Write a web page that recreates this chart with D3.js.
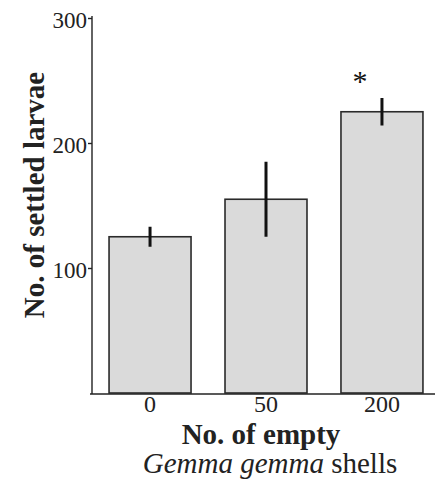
<!DOCTYPE html>
<html>
<head>
<meta charset="utf-8">
<script src="https://cdn.jsdelivr.net/npm/d3@7"></script>
<style>
  body { margin: 0; background: #fff; }
  svg { display: block; }
  svg text { font-family: "Liberation Serif", "Times New Roman", serif; }
</style>
</head>
<body>
<svg id="chart" width="439" height="486"></svg>
<script>
// shell treatments and settled larvae (mean, +/- error)
const shells = ['0', '50', '200'];
const larvae = [125, 155, 225];
const errors = [8, 30, 11];
const signif = [false, false, true];
const yTicks = [100, 200, 300];

const svg = d3.select('#chart');

const x = d3.scaleBand()
  .domain(shells)
  .range([92, 440])
  .paddingInner(0.293)
  .paddingOuter(0.147);

const y = d3.scaleLinear()
  .domain([0, 300])
  .range([393, 18]);

// bars
svg.selectAll('rect.bar')
  .data(shells)
  .enter().append('rect')
    .attr('class', 'bar')
    .attr('x', d => x(d))
    .attr('width', x.bandwidth())
    .attr('y', (d, i) => y(larvae[i]))
    .attr('height', (d, i) => y(0) - y(larvae[i]))
    .attr('fill', '#dadada')
    .attr('stroke', '#2a2a2a')
    .attr('stroke-width', 1.6);

// error bars (upper + lower)
svg.selectAll('line.err')
  .data(shells)
  .enter().append('line')
    .attr('class', 'err')
    .attr('x1', d => x(d) + x.bandwidth() / 2)
    .attr('x2', d => x(d) + x.bandwidth() / 2)
    .attr('y1', (d, i) => y(larvae[i] + errors[i]))
    .attr('y2', (d, i) => y(larvae[i] - errors[i]))
    .attr('stroke', '#111')
    .attr('stroke-width', 3);

// significance mark
svg.selectAll('text.star')
  .data(shells.filter((d, i) => signif[i]))
  .enter().append('text')
    .attr('class', 'star')
    .attr('x', d => x(d) + x.bandwidth() / 2 - 22)
    .attr('y', d => y(larvae[shells.indexOf(d)] + errors[shells.indexOf(d)]))
    .attr('dy', -7)
    .attr('text-anchor', 'middle')
    .attr('font-size', 30)
    .attr('fill', '#111')
    .text('*');

// y axis
const yAxis = svg.append('g')
  .attr('transform', 'translate(92,0)')
  .call(d3.axisLeft(y).tickValues(yTicks).tickSize(4).tickSizeOuter(0))
  .attr('font-family', null)
  .attr('font-size', null);
yAxis.select('.domain')
  .attr('d', `M0,${y(300) - 2}V${y(0) + 1}`)
  .attr('stroke', '#222').attr('stroke-width', 1.4);
yAxis.selectAll('.tick line').attr('stroke', '#222').attr('stroke-width', 1.4);
yAxis.selectAll('.tick text')
  .attr('x', -5)
  .attr('dy', '0.4em')
  .style('font-size', '23px')
  .attr('fill', '#222');

// x axis
const xAxis = svg.append('g')
  .attr('transform', `translate(0,${y(0) + 1})`)
  .call(d3.axisBottom(x).tickSize(0).tickPadding(0))
  .attr('font-family', null)
  .attr('font-size', null);
xAxis.select('.domain')
  .attr('d', `M90,0H435`)
  .attr('stroke', '#222').attr('stroke-width', 1.4);
xAxis.selectAll('.tick text')
  .attr('dy', '0.75em')
  .style('font-size', '24px')
  .attr('fill', '#222');

// axis titles
svg.append('text')
  .attr('transform', 'translate(44,195) rotate(-90)')
  .attr('text-anchor', 'middle')
  .style('font-size', '29px')
  .attr('font-weight', 'bold')
  .attr('fill', '#222')
  .text('No. of settled larvae');

svg.append('text')
  .attr('x', 261)
  .attr('y', 444)
  .attr('text-anchor', 'middle')
  .style('font-size', '29px')
  .attr('font-weight', 'bold')
  .attr('fill', '#222')
  .text('No. of empty');

const sub = svg.append('text')
  .attr('x', 270)
  .attr('y', 473)
  .attr('text-anchor', 'middle')
  .style('font-size', '29px')
  .attr('fill', '#222');
sub.append('tspan').attr('font-style', 'italic').text('Gemma gemma');
sub.append('tspan').text(' shells');
</script>
</body>
</html>
